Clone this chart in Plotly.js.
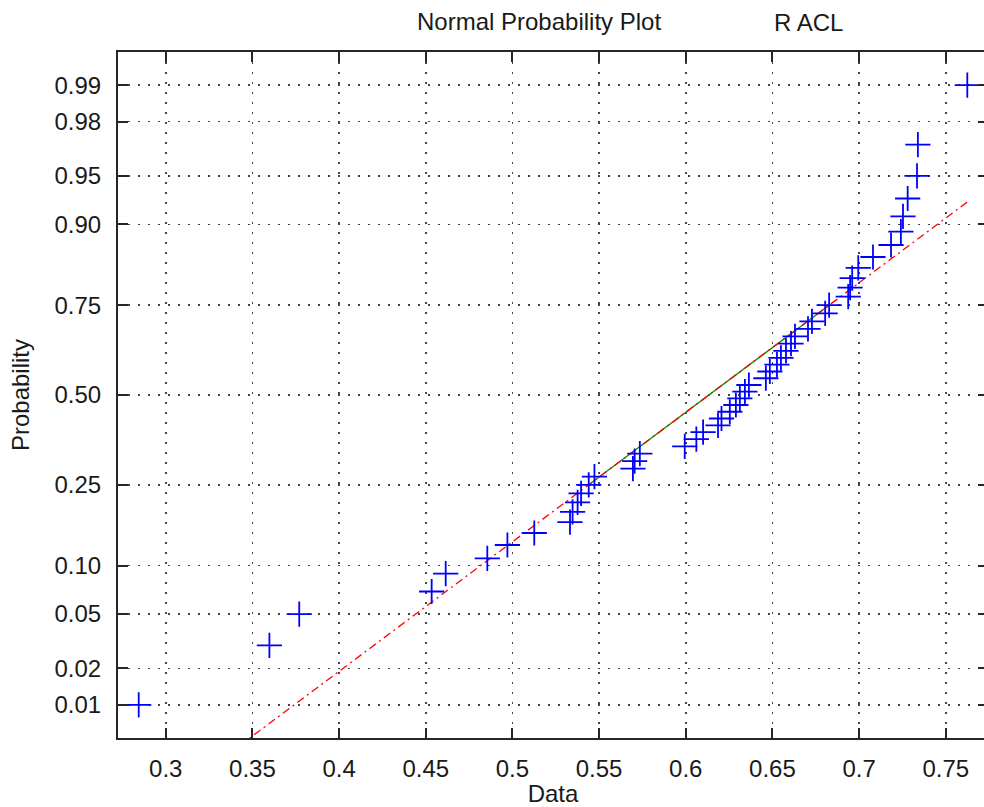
<!DOCTYPE html>
<html>
<head>
<meta charset="utf-8">
<script src="https://cdn.plot.ly/plotly-3.0.1.min.js"></script>
<style>
html,body{margin:0;padding:0;overflow:hidden;background:#fff;}
#chart{width:990px;height:807px;}
</style>
</head>
<body>
<div id="chart"></div>
<script>
// Sorted sample values
const dataValues = [
  0.2844, 0.3598, 0.3770, 0.4534, 0.4615, 0.4855, 0.4971, 0.5126, 0.5332, 0.5347,
  0.5376, 0.5396, 0.5440, 0.5473, 0.5695, 0.5705, 0.5735, 0.5994, 0.6061, 0.6100,
  0.6186, 0.6206, 0.6254, 0.6289, 0.6312, 0.6341, 0.6364, 0.6462, 0.6485, 0.6526,
  0.6549, 0.6578, 0.6607, 0.6630, 0.6705, 0.6728, 0.6804, 0.6827, 0.6937, 0.6948,
  0.6960, 0.6995, 0.7080, 0.7184, 0.7241, 0.7253, 0.7280, 0.7334, 0.7339, 0.7624
];
// Plotting-position probabilities of each ranked point
const probValues = [
  0.01, 0.03, 0.05, 0.07, 0.09, 0.11, 0.13, 0.15, 0.17, 0.19,
  0.21, 0.23, 0.25, 0.27, 0.29, 0.31, 0.33, 0.35, 0.37, 0.39,
  0.41, 0.43, 0.45, 0.47, 0.49, 0.51, 0.53, 0.55, 0.57, 0.59,
  0.61, 0.63, 0.65, 0.67, 0.69, 0.71, 0.73, 0.75, 0.77, 0.79,
  0.81, 0.83, 0.85, 0.87, 0.89, 0.91, 0.93, 0.95, 0.97, 0.99
];
const probTicks = [0.01, 0.02, 0.05, 0.10, 0.25, 0.50, 0.75, 0.90, 0.95, 0.98, 0.99];
const probTickLabels = ['0.01','0.02','0.05','0.10','0.25','0.50','0.75','0.90','0.95','0.98','0.99'];
const xTicks = [0.3, 0.35, 0.4, 0.45, 0.5, 0.55, 0.6, 0.65, 0.7, 0.75];
const xTickLabels = ['0.3','0.35','0.4','0.45','0.5','0.55','0.6','0.65','0.7','0.75'];

// inverse normal CDF (Acklam)
function norminv(p){
  const a=[-3.969683028665376e+01,2.209460984245205e+02,-2.759285104469687e+02,1.383577518672690e+02,-3.066479806614716e+01,2.506628277459239e+00];
  const b=[-5.447609879822406e+01,1.615858368580409e+02,-1.556989798598866e+02,6.680131188771972e+01,-1.328068155288572e+01];
  const c=[-7.784894002430293e-03,-3.223964580411365e-01,-2.400758277161838e+00,-2.549732539343734e+00,4.374664141464968e+00,2.938163982698783e+00];
  const d=[7.784695709041462e-03,3.224671290700398e-01,2.445134137142996e+00,3.754408661907416e+00];
  const pl=0.02425, ph=1-pl; let q,r;
  if(p<pl){q=Math.sqrt(-2*Math.log(p));return (((((c[0]*q+c[1])*q+c[2])*q+c[3])*q+c[4])*q+c[5])/((((d[0]*q+d[1])*q+d[2])*q+d[3])*q+1);}
  if(p<=ph){q=p-0.5;r=q*q;return (((((a[0]*r+a[1])*r+a[2])*r+a[3])*r+a[4])*r+a[5])*q/(((((b[0]*r+b[1])*r+b[2])*r+b[3])*r+b[4])*r+1);}
  q=Math.sqrt(-2*Math.log(1-p));return -(((((c[0]*q+c[1])*q+c[2])*q+c[3])*q+c[4])*q+c[5])/((((d[0]*q+d[1])*q+d[2])*q+d[3])*q+1);
}
function prctile(sorted, pct){
  const n=sorted.length; let pos=n*pct/100+0.5;
  if(pos<=1) return sorted[0]; if(pos>=n) return sorted[n-1];
  const lo=Math.floor(pos), f=pos-lo; return sorted[lo-1]+f*(sorted[lo]-sorted[lo-1]);
}

const zData = probValues.map(norminv);
const q1 = prctile(dataValues,25), q3 = prctile(dataValues,75);
const p1 = norminv(0.25), p3 = norminv(0.75);
const slope = (p3-p1)/(q3-q1), cx=(q1+q3)/2, cy=(p1+p3)/2;
const minx = Math.min(...dataValues), maxx = Math.max(...dataValues);
const extX = [minx, maxx];
const extY = [cy - slope*(cx-minx), cy + slope*(maxx-cx)];

const n = dataValues.length;
const yLim = -norminv(0.25/n);
const span = maxx-minx;

const traces = [
  {x:[q1,q3], y:[p1,p3], mode:'lines', line:{color:'#009900', width:1.3}, hoverinfo:'skip'},
  {x:extX, y:extY, mode:'lines', line:{color:'#ff0000', width:1.3, dash:'8px,4px,2px,4px'}, hoverinfo:'skip'},
  {x:dataValues, y:zData, mode:'markers', cliponaxis:false,
   marker:{symbol:'cross-thin-open', size:18, color:'#0000ff', line:{color:'#0000ff', width:1.8}}}
];

const fontFam = '"Liberation Sans", Arial, sans-serif';
const layout = {
  width:990, height:807,
  margin:{l:118, r:2, t:52, b:69},
  paper_bgcolor:'#ffffff', plot_bgcolor:'#ffffff',
  showlegend:false,
  font:{family:fontFam, size:24, color:'#1a1a1a'},
  title:{text:'Normal Probability Plot', xref:'container', x:417/990, xanchor:'left', yref:'container', y:1-22/807, yanchor:'middle', font:{family:fontFam, size:24, color:'#1a1a1a'}},
  annotations:[{text:'R ACL', xref:'paper', yref:'paper', x:(772-118)/870, xanchor:'left', y:1+30/686, yanchor:'middle', showarrow:false, font:{family:fontFam, size:24, color:'#1a1a1a'}}],
  xaxis:{
    range:[minx-0.025*span, maxx+0.025*span],
    tickvals:xTicks, ticktext:xTickLabels,
    ticks:'inside', ticklen:10, tickwidth:2, tickcolor:'#262626',
    showline:true, linecolor:'#262626', linewidth:2, mirror:'ticks',
    showgrid:true, gridcolor:'#444', gridwidth:1.6, griddash:'2px,8px',
    zeroline:false, ticklabelstandoff:8,
    title:{text:'Data', standoff:6, font:{family:fontFam, size:24, color:'#1a1a1a'}}
  },
  yaxis:{
    range:[-yLim, yLim],
    tickvals:probTicks.map(norminv), ticktext:probTickLabels,
    ticks:'inside', ticklen:10, tickwidth:2, tickcolor:'#262626',
    showline:true, linecolor:'#262626', linewidth:2, mirror:'ticks',
    showgrid:true, gridcolor:'#444', gridwidth:1.6, griddash:'2px,8px',
    zeroline:false, ticklabelstandoff:10,
    title:{text:'Probability', standoff:18, font:{family:fontFam, size:24, color:'#1a1a1a'}}
  }
};
Plotly.newPlot('chart', traces, layout, {staticPlot:true, displayModeBar:false});
</script>
</body>
</html>
